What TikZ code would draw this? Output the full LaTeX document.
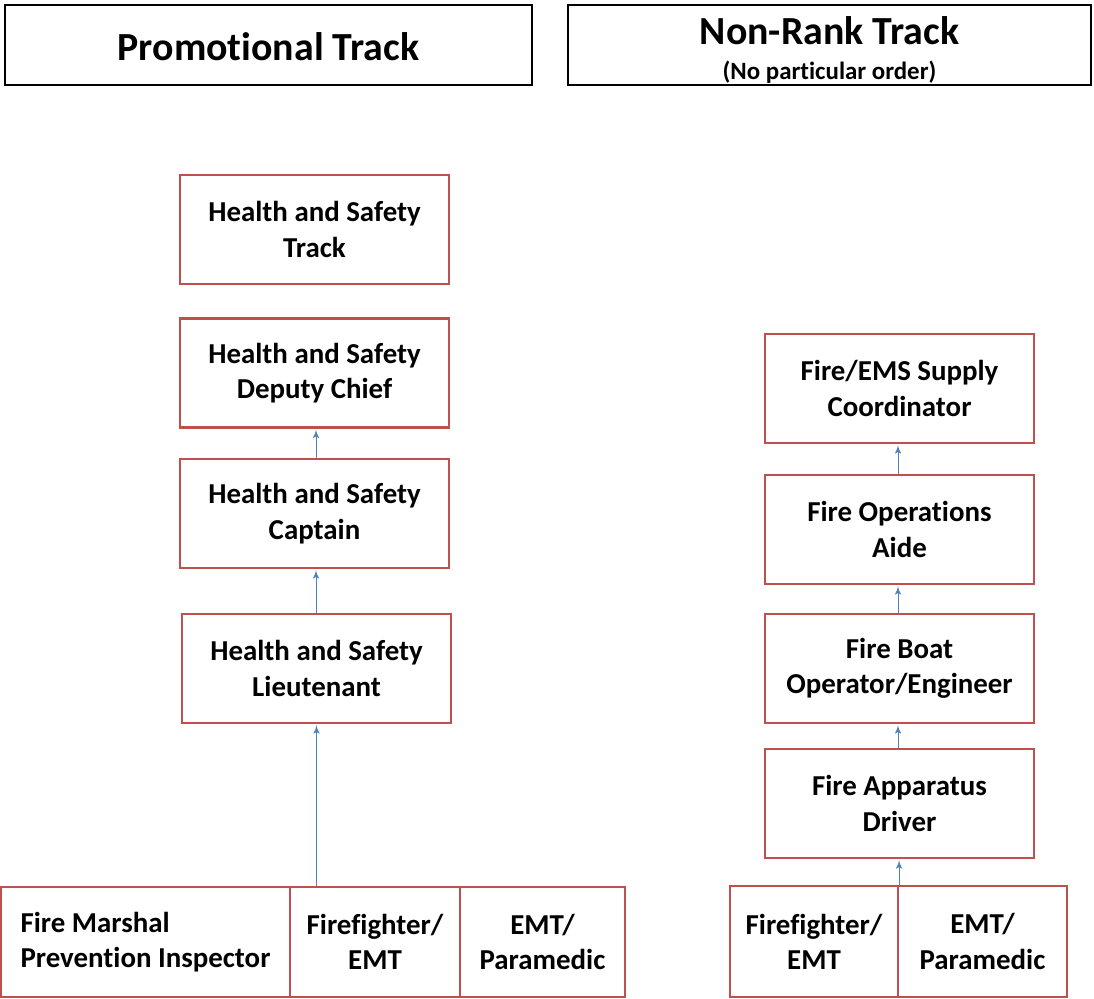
\documentclass[tikz,border=0pt]{standalone}
\usepackage{fontspec}
\setmainfont{Carlito}[Ligatures=NoCommon]
\usetikzlibrary{arrows}

\definecolor{boxred}{RGB}{192,80,77}
\definecolor{linkblue}{RGB}{79,129,189}

\begin{document}
\begin{tikzpicture}[>=latex',scale=0.5]
 \tikzstyle{header}=[draw=black,line width=1.3bp,inner sep=0pt,minimum height=40bp,align=center]
 \tikzstyle{job}=[draw=boxred,line width=1.1bp,inner sep=0pt,minimum width=134.5bp,minimum height=54.5bp,align=center,font=\fontsize{14.5}{17.7}\selectfont\bfseries]
 \tikzstyle{link}=[->,draw=linkblue,line width=0.5bp,shorten >=0.5bp]
 \useasboundingbox (0bp,0bp) rectangle (1094bp,-999bp);

 % headers
 \node (promo) at (268.5bp,-45bp) [header,minimum width=263.5bp] {};
 \node at (268.5bp,-47bp) {\fontsize{20}{24}\selectfont\bfseries Promotional Track};
 \node (nonrank) at (829.5bp,-45bp) [header,minimum width=261.5bp] {};
 \node at (829.5bp,-31bp) {\fontsize{20}{24}\selectfont\bfseries Non-Rank Track};
 \node at (829.5bp,-72bp) {\fontsize{12.5}{15}\selectfont\bfseries (No particular order)};

 % promotional track
 \node (A) at (314.5bp,-229.5bp) [job] {Health and Safety\\Track};
 \node (B) at (314.5bp,-373bp) [job] {Health and Safety\\Deputy Chief};
 \node (C) at (314.5bp,-513.5bp) [job] {Health and Safety\\Captain};
 \node (D) at (316.5bp,-668.5bp) [job] {Health and Safety\\Lieutenant};

 \node (Amarshal) at (145.5bp,-942bp) [job,minimum width=144.5bp,minimum height=55bp,align=left] {Fire Marshal\\Prevention Inspector};
 \node (Afirefighter) at (375bp,-942bp) [job,minimum width=85bp,minimum height=55bp] {Firefighter/\\EMT};
 \node (Aemt) at (542.5bp,-942bp) [job,minimum width=82.5bp,minimum height=55bp] {EMT/\\Paramedic};

 % non-rank track
 \node (P) at (899.5bp,-388.5bp) [job] {Fire/EMS Supply\\Coordinator};
 \node (Q) at (899.5bp,-529.5bp) [job] {Fire Operations\\Aide};
 \node (R) at (899.5bp,-668.5bp) [job] {Fire Boat\\Operator/Engineer};
 \node (S) at (899.5bp,-803.5bp) [job] {Fire Apparatus\\Driver};

 \node (Pfirefighter) at (814bp,-941.5bp) [job,minimum width=84bp,minimum height=55.5bp] {Firefighter/\\EMT};
 \node (Pemt) at (982.5bp,-941.5bp) [job,minimum width=84.5bp,minimum height=55.5bp] {EMT/\\Paramedic};

 \draw [link] (C.north -| 316bp,0) -- (B.south -| 316bp,0);
 \draw [link] (D.north -| 316bp,0) -- (C.south -| 316bp,0);
 \draw [link] (D |- Afirefighter.north) -- (D);
 \draw [link] (Q.north -| 898bp,0) -- (P.south -| 898bp,0);
 \draw [link] (R.north -| 898bp,0) -- (Q.south -| 898bp,0);
 \draw [link] (S.north -| 898bp,0) -- (R.south -| 898bp,0);
 \draw [link] (Pfirefighter.north east) -- (S.south -| Pfirefighter.north east);
\end{tikzpicture}
\end{document}
